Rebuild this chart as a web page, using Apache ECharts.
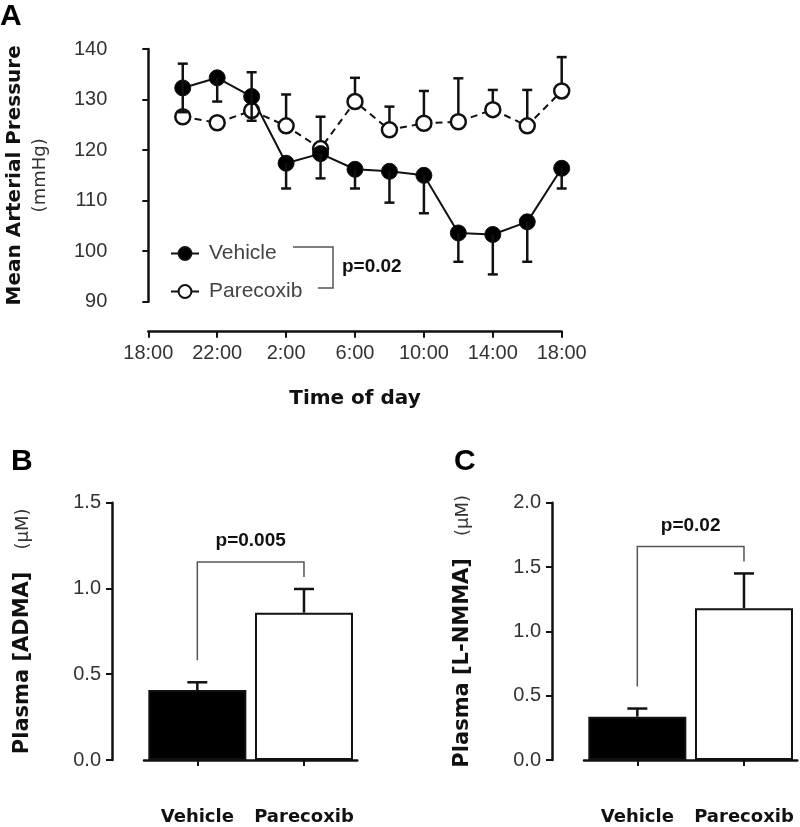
<!DOCTYPE html>
<html><head><meta charset="utf-8">
<script src="https://cdn.jsdelivr.net/npm/echarts@6/dist/echarts.min.js"></script>
<style>html,body{margin:0;padding:0;background:#fff}#c{width:800px;height:827px}</style>
</head><body><div id="c"></div>
<script>
// ---------- Panel A data ----------
const sampleTimes = ['20:00','22:00','0:00','2:00','4:00','6:00','8:00','10:00','12:00','14:00','16:00','18:00'];
const vehicleMAP = [132.3,134.3,130.6,117.4,119.3,116.2,115.8,115.0,103.6,103.3,105.8,116.4];
const vehicleSEM = [4.8,4.7,4.8,5.0,4.9,3.8,6.2,7.5,5.7,7.9,7.9,4.0];
const vehicleErrDir = [0,-1,0,-1,-1,-1,-1,-1,-1,-1,-1,-1]; // 1 up, -1 down, 0 both
const parecoxibMAP = [126.6,125.4,127.8,124.8,120.3,129.6,124.0,125.3,125.6,128.0,124.8,131.7];
const parecoxibSEM = [0.8,1.0,1.0,6.2,6.3,4.7,4.6,6.4,8.6,3.9,7.1,6.7];
const parecoxibErrDir = [1,1,1,1,1,1,1,1,1,1,1,1];
const timeTickLabels = ['18:00','22:00','2:00','6:00','10:00','14:00','18:00'];
const mapP = 'p=0.02';
// ---------- Panels B / C data ----------
const groups = ['Vehicle','Parecoxib'];
const admaMean = [0.408, 0.859];
const admaSEM = [0.045, 0.138];
const admaP = 'p=0.005';
const lnmmaMean = [0.337, 1.18];
const lnmmaSEM = [0.063, 0.27];
const lnmmaP = 'p=0.02';

// hours after 18:00
const hours = sampleTimes.map((t,i)=>{ let h=(parseInt(t)-18+24)%24; if(h===0&&i>0)h=24; return h; });

const INK='#111', TXT='#333';
const REG='Liberation Sans', BOLD='DejaVu Sans';

function errA(params, api){
  const x=api.value(0), y=api.value(1), e=api.value(2), d=api.value(3);
  const p=api.coord([x,y]);
  const ends = d===0 ? [y+e,y-e] : [y+d*e];
  const ch=[];
  ends.forEach(v=>{
    const q=api.coord([x,v]);
    ch.push({type:'line',shape:{x1:p[0],y1:p[1],x2:q[0],y2:q[1]},style:{stroke:INK,lineWidth:2.5}});
    ch.push({type:'line',shape:{x1:q[0]-5,y1:q[1],x2:q[0]+5,y2:q[1]},style:{stroke:INK,lineWidth:2.5}});
  });
  return {type:'group',children:ch};
}
function errBar(params, api){
  const i=api.value(0), m=api.value(1), e=api.value(2);
  const p=api.coord([i,m]), q=api.coord([i,m+e]);
  return {type:'group',children:[
    {type:'line',shape:{x1:p[0],y1:p[1],x2:q[0],y2:q[1]},style:{stroke:INK,lineWidth:2.5}},
    {type:'line',shape:{x1:q[0]-10,y1:q[1],x2:q[0]+10,y2:q[1]},style:{stroke:INK,lineWidth:2.5}}
  ]};
}
function bracket(pText){
  return function(params, api){
    const a=api.coord([api.value(0),api.value(1)]);
    const b=api.coord([api.value(2),api.value(3)]);
    const yl=a[1]-22, yr=b[1]-12, yt=Math.min(yl,yr)-15;
    const st={stroke:'#555',lineWidth:1.5,fill:null};
    return {type:'group',children:[
      {type:'polyline',shape:{points:[[a[0],yl],[a[0],yt],[b[0],yt],[b[0],yr]]},style:st},
      {type:'text',style:{x:(a[0]+b[0])/2,y:yt-21,text:pText,align:'center',verticalAlign:'middle',
        font:'bold 19px "Liberation Sans"',fill:'#111'}}
    ]};
  };
}

const yRich = {
  a:{fontFamily:BOLD,fontWeight:'bold',fontSize:20,lineHeight:26,color:INK,verticalAlign:'middle'},
  b:{fontFamily:BOLD,fontSize:18,lineHeight:26,color:TXT,verticalAlign:'middle'},
  a2:{fontFamily:BOLD,fontWeight:'bold',fontSize:21,lineHeight:26,color:INK,verticalAlign:'middle'},
  b2:{fontFamily:BOLD,fontSize:18,lineHeight:26,color:TXT,verticalAlign:'middle',padding:[0,0,0,22]}
};
const axisLine={show:true,lineStyle:{color:INK,width:2.5}};
const axisTick={show:true,length:6,lineStyle:{color:INK,width:2}};
const lbl={fontFamily:REG,fontSize:20,color:TXT};

function barAxisX(gi){
  return {gridIndex:gi,type:'category',data:groups,offset:32,axisLine,axisTick:Object.assign({alignWithLabel:true},axisTick),
    axisLabel:{interval:0,hideOverlap:false,fontFamily:BOLD,fontWeight:'bold',fontSize:18,color:INK,margin:16},splitLine:{show:false}};
}
function barAxisY(gi,max,name){
  return {gridIndex:gi,type:'value',min:0,max:max,interval:0.5,offset:32,axisLine,axisTick,
    axisLabel:Object.assign({margin:11,formatter:v=>v.toFixed(1)},lbl),splitLine:{show:false},
    name:name,nameLocation:'middle',nameGap:76,nameRotate:90,nameMoveOverlap:false,nameTextStyle:{rich:yRich}};
}

const chart=echarts.init(document.getElementById('c'),null,{renderer:'canvas'});
chart.setOption({
  backgroundColor:'#fff',
  animation:false,
  grid:[
    {left:148.3,top:49,width:413.4,height:252.7,outerBoundsMode:'none'},
    {left:144,top:502.7,width:213.3,height:257.3,outerBoundsMode:'none'},
    {left:584,top:502.7,width:213.3,height:257.3,outerBoundsMode:'none'}
  ],
  xAxis:[
    {gridIndex:0,type:'value',min:0,max:24,interval:4,offset:30,axisLine,axisTick,
      axisLabel:Object.assign({margin:12,formatter:(v)=>timeTickLabels[Math.round(v/4)]},lbl),splitLine:{show:false},
      name:'Time of day',nameLocation:'middle',nameGap:57,nameMoveOverlap:false,
      nameTextStyle:{fontFamily:BOLD,fontWeight:'bold',fontSize:20,color:INK}},
    barAxisX(1), barAxisX(2)
  ],
  yAxis:[
    {gridIndex:0,type:'value',min:90,max:140,interval:10,offset:32,axisLine,axisTick,
      axisLabel:Object.assign({margin:9},lbl),splitLine:{show:false},
      name:'{a|Mean Arterial Pressure}\n{b|(mmHg)}',nameLocation:'middle',nameGap:63,nameRotate:90,nameMoveOverlap:false,
      nameTextStyle:{rich:yRich}},
    barAxisY(1,1.5,'{a2|Plasma [ADMA]}{b2|(µM)}'),
    barAxisY(2,2.0,'{a2|Plasma [L-NMMA]}{b2|(µM)}')
  ],
  legend:{show:true,orient:'vertical',left:165,top:238,itemWidth:28,itemHeight:16,itemGap:17,
    data:['Vehicle','Parecoxib'],lineStyle:{type:'solid',width:2},
    textStyle:{fontFamily:REG,fontSize:21,color:'#444',padding:[0,0,0,5]}},
  graphic:[
    {type:'polyline',shape:{points:[[293,247],[333,247],[333,288],[318,288]]},style:{stroke:'#555',lineWidth:1.5,fill:null}},
    {type:'text',style:{x:342,y:267,text:mapP,verticalAlign:'middle',font:'bold 19px "Liberation Sans"',fill:'#111'}},
    {type:'text',style:{x:0,y:17,text:'A',verticalAlign:'middle',font:'bold 30px "Liberation Sans"',fill:'#000'}},
    {type:'text',style:{x:11,y:462,text:'B',verticalAlign:'middle',font:'bold 30px "Liberation Sans"',fill:'#000'}},
    {type:'text',style:{x:454,y:462,text:'C',verticalAlign:'middle',font:'bold 30px "Liberation Sans"',fill:'#000'}}
  ],
  series:[
    {type:'custom',name:'pErr',xAxisIndex:0,yAxisIndex:0,z:1,clip:false,renderItem:errA,
      data:hours.map((h,i)=>[h,parecoxibMAP[i],parecoxibSEM[i],parecoxibErrDir[i]])},
    {type:'line',name:'Parecoxib',xAxisIndex:0,yAxisIndex:0,z:2,symbol:'circle',symbolSize:15,
      lineStyle:{color:INK,width:2,type:[7,5]},itemStyle:{color:'#fff',borderColor:INK,borderWidth:2.5},
      data:hours.map((h,i)=>[h,parecoxibMAP[i]])},
    {type:'line',name:'Vehicle',xAxisIndex:0,yAxisIndex:0,z:3,symbol:'circle',symbolSize:16,
      lineStyle:{color:INK,width:2},itemStyle:{color:'#000',borderColor:INK,borderWidth:1},
      data:hours.map((h,i)=>[h,vehicleMAP[i]])},
    {type:'custom',name:'vErr',xAxisIndex:0,yAxisIndex:0,z:4,clip:false,renderItem:errA,
      data:hours.map((h,i)=>[h,vehicleMAP[i],vehicleSEM[i],vehicleErrDir[i]])},
    // Panel B
    {type:'bar',xAxisIndex:1,yAxisIndex:1,barWidth:98,z:2,
      data:admaMean.map((m,i)=>({value:m,itemStyle:{color:i===0?'#000':'#fff',borderColor:INK,borderWidth:2}}))},
    {type:'custom',xAxisIndex:1,yAxisIndex:1,z:1,clip:false,renderItem:errBar,data:admaMean.map((m,i)=>[i,m,admaSEM[i]])},
    {type:'custom',xAxisIndex:1,yAxisIndex:1,z:3,clip:false,renderItem:bracket(admaP),
      data:[[0,admaMean[0]+admaSEM[0],1,admaMean[1]+admaSEM[1]]]},
    // Panel C
    {type:'bar',xAxisIndex:2,yAxisIndex:2,barWidth:98,z:2,
      data:lnmmaMean.map((m,i)=>({value:m,itemStyle:{color:i===0?'#000':'#fff',borderColor:INK,borderWidth:2}}))},
    {type:'custom',xAxisIndex:2,yAxisIndex:2,z:1,clip:false,renderItem:errBar,data:lnmmaMean.map((m,i)=>[i,m,lnmmaSEM[i]])},
    {type:'custom',xAxisIndex:2,yAxisIndex:2,z:3,clip:false,renderItem:bracket(lnmmaP),
      data:[[0,lnmmaMean[0]+lnmmaSEM[0],1,lnmmaMean[1]+lnmmaSEM[1]]]}
  ]
});
</script></body></html>
